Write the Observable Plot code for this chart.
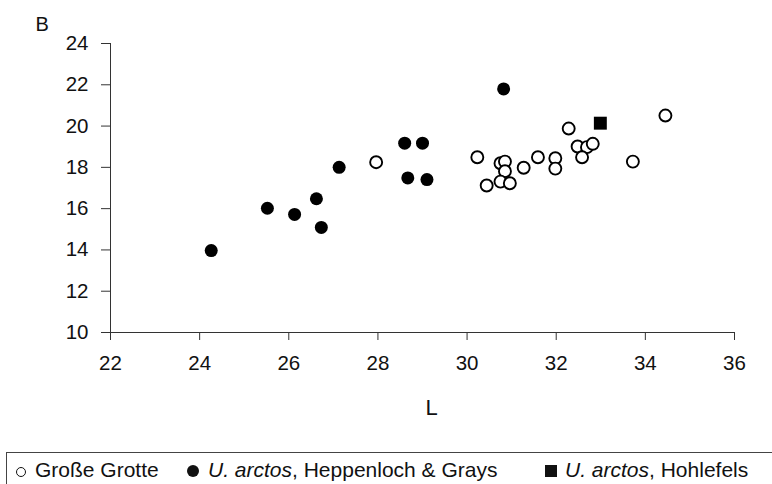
<!DOCTYPE html>
<html>
<head>
<meta charset="utf-8">
<script src="https://cdn.jsdelivr.net/npm/d3@7"></script>
<script src="https://cdn.jsdelivr.net/npm/@observablehq/plot@0.6"></script>
<style>
  html, body { margin: 0; padding: 0; background: #fff; }
  #wrap { position: relative; width: 772px; height: 484px; overflow: hidden; font-family: "Liberation Sans", Arial, sans-serif; color: #111; }
  #legend { position: absolute; left: 6px; top: 452px; width: 820px; height: 80px; border-top: 1px solid #444; border-left: 1px solid #444; }
  .lt { position: absolute; font-size: 21px; line-height: 21px; white-space: nowrap; }
  .mk { position: absolute; box-sizing: border-box; }
</style>
</head>
<body>
<div id="wrap"></div>
<script>
// Große Grotte (open circles)
const grosseL = [27.96, 30.23, 30.44, 30.75, 30.85, 30.85, 30.75, 30.96, 31.27, 31.59, 31.98, 31.98, 32.28, 32.48, 32.69, 32.82, 32.58, 34.45, 33.72];
const grosseB = [18.25, 18.49, 17.12, 18.20, 18.28, 17.81, 17.31, 17.23, 17.98, 18.49, 18.44, 17.94, 19.88, 19.01, 18.98, 19.14, 18.49, 20.51, 18.28];
// U. arctos, Heppenloch & Grays (filled circles)
const heppL = [24.26, 25.52, 26.13, 26.62, 26.73, 27.13, 28.60, 29.00, 28.67, 29.10, 30.82];
const heppB = [13.97, 16.02, 15.72, 16.48, 15.09, 18.00, 19.17, 19.17, 17.49, 17.41, 21.80];
// U. arctos, Hohlefels (filled square)
const hohlL = [32.99];
const hohlB = [20.14];
// axis ticks
const xTicks = [22, 24, 26, 28, 30, 32, 34, 36];
const yTicks = [10, 12, 14, 16, 18, 20, 22, 24];
const xLabel = "L";
const yLabel = "B";

const toRows = (L, B) => L.map((l, i) => ({L: l, B: B[i]}));
const grosse = toRows(grosseL, grosseB);
const hepp = toRows(heppL, heppB);
const hohl = toRows(hohlL, hohlB);

const chart = Plot.plot({
  width: 772,
  height: 450,
  marginLeft: 110,
  marginRight: 38,
  marginTop: 43,
  marginBottom: 118,
  x: {domain: [22, 36]},
  y: {domain: [10, 24]},
  style: {fontFamily: "'Liberation Sans', Arial, sans-serif", fontSize: "20px", color: "#111", background: "white"},
  marks: [
    Plot.ruleY([10], {stroke: "#333", strokeWidth: 1}),
    Plot.ruleX([22], {stroke: "#333", strokeWidth: 1}),
    Plot.axisX(xTicks, {tickSize: 8, tickPadding: 15, fontSize: 20.5, label: null, stroke: "#333"}),
    Plot.axisY(yTicks, {tickSize: 9, tickPadding: 13, fontSize: 20.5, label: null, stroke: "#333"}),
    Plot.text([xLabel], {frameAnchor: "bottom", dx: 9, dy: 82, fontSize: 22}),
    Plot.text([yLabel], {frameAnchor: "top-left", textAnchor: "start", dx: -75, dy: -27, fontSize: 20}),
    Plot.dot(hepp, {x: "L", y: "B", r: 6.5, fill: "black", stroke: "none"}),
    Plot.dot(hohl, {x: "L", y: "B", symbol: "square", r: 7.3, fill: "black", stroke: "none"}),
    Plot.dot(grosse, {x: "L", y: "B", r: 6, fill: "white", stroke: "black", strokeWidth: 1.9})
  ]
});

const wrap = document.getElementById("wrap");
wrap.appendChild(chart);

// Legend (below the SVG)
const legend = document.createElement("div");
legend.id = "legend";
wrap.appendChild(legend);
const baseTop = 477 - 17.8;
const items = [
  {marker: {left: 16, top: 467, w: 10, h: 10, css: "border:1.6px solid #111;border-radius:50%;background:#fff;"}, x: 35, html: "Große Grotte"},
  {marker: {left: 187, top: 465, w: 12, h: 12, css: "border-radius:50%;background:#111;"}, x: 208, html: "<i>U. arctos</i>, Heppenloch &amp; Grays"},
  {marker: {left: 545, top: 465, w: 12, h: 12, css: "background:#111;"}, x: 565, html: "<i>U. arctos</i>, Hohlefels"}
];
for (const it of items) {
  const m = document.createElement("div");
  m.className = "mk";
  m.style.cssText = `left:${it.marker.left}px;top:${it.marker.top}px;width:${it.marker.w}px;height:${it.marker.h}px;` + it.marker.css;
  wrap.appendChild(m);
  const t = document.createElement("div");
  t.className = "lt";
  t.style.left = it.x + "px";
  t.style.top = baseTop + "px";
  t.innerHTML = it.html;
  wrap.appendChild(t);
}
</script>
</body>
</html>
